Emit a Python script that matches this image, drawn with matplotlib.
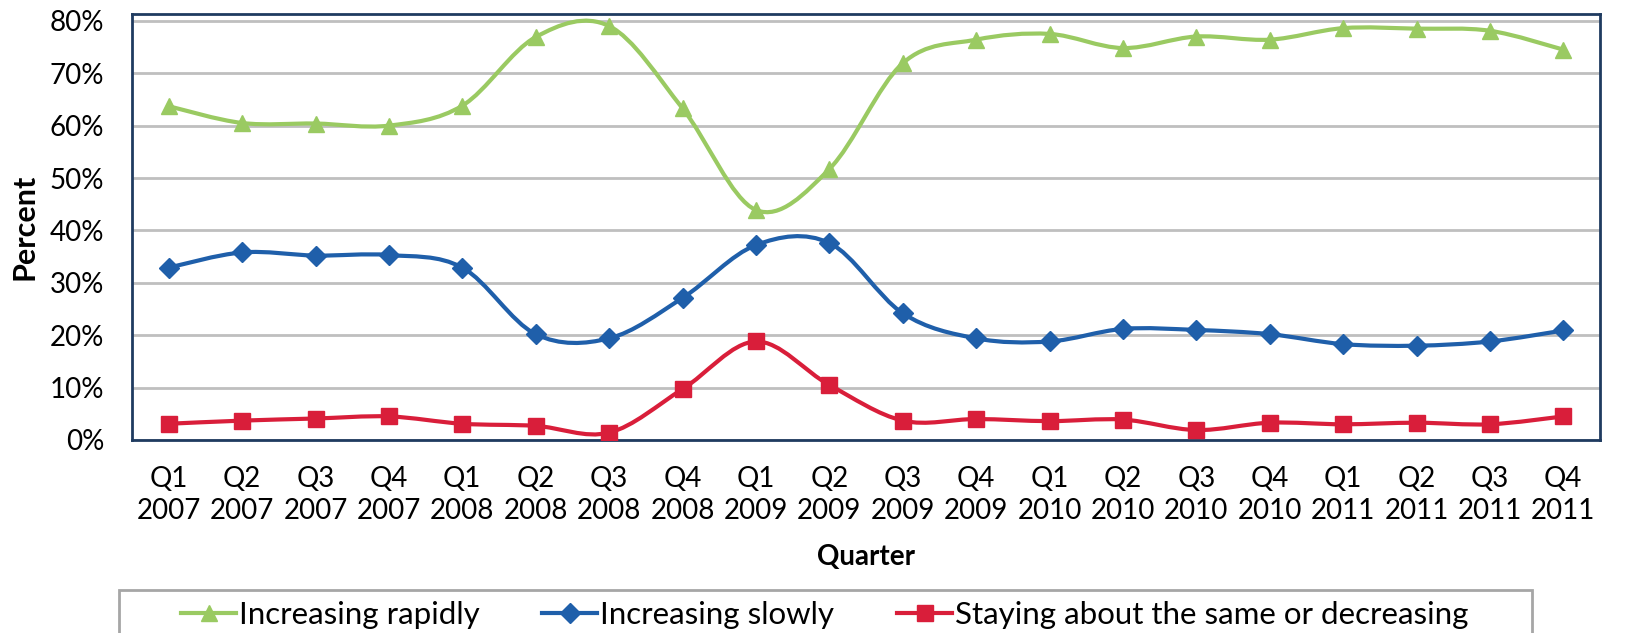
import numpy as np
import matplotlib
matplotlib.use('Agg')
import matplotlib.pyplot as plt
from matplotlib.path import Path
from matplotlib.patches import PathPatch, Rectangle
from matplotlib.lines import Line2D
from matplotlib.ticker import PercentFormatter

quarters = ['Q1\n2007', 'Q2\n2007', 'Q3\n2007', 'Q4\n2007',
            'Q1\n2008', 'Q2\n2008', 'Q3\n2008', 'Q4\n2008',
            'Q1\n2009', 'Q2\n2009', 'Q3\n2009', 'Q4\n2009',
            'Q1\n2010', 'Q2\n2010', 'Q3\n2010', 'Q4\n2010',
            'Q1\n2011', 'Q2\n2011', 'Q3\n2011', 'Q4\n2011']

rapid = [0.637, 0.605, 0.604, 0.600, 0.638, 0.769, 0.790, 0.633, 0.439, 0.517,
         0.719, 0.764, 0.775, 0.748, 0.770, 0.764, 0.786, 0.785, 0.781, 0.745]
slow = [0.329, 0.358, 0.352, 0.353, 0.329, 0.202, 0.194, 0.271, 0.372, 0.376,
        0.242, 0.194, 0.188, 0.212, 0.210, 0.202, 0.183, 0.180, 0.188, 0.209]
same = [0.031, 0.037, 0.041, 0.045, 0.031, 0.027, 0.014, 0.097, 0.188, 0.105,
        0.037, 0.040, 0.036, 0.039, 0.019, 0.033, 0.030, 0.033, 0.030, 0.045]

labels = ['Increasing rapidly', 'Increasing slowly',
          'Staying about the same or decreasing']
colors = ['#9ACA62', '#1F5FAA', '#D91E3A']
markers = ['^', 'D', 's']

plt.rcParams['font.family'] = ['Lato', 'DejaVu Sans']


def smooth_path(xs, ys):
    # Excel-style smoothed line: cubic bezier through every point
    pts = np.column_stack([xs, ys])
    verts = [pts[0]]
    codes = [Path.MOVETO]
    n = len(pts)
    for i in range(n - 1):
        p0 = pts[i - 1] if i > 0 else pts[i]
        p1 = pts[i]
        p2 = pts[i + 1]
        p3 = pts[i + 2] if i + 2 < n else pts[i + 1]
        c1 = p1 + (p2 - p0) / 6
        c2 = p2 - (p3 - p1) / 6
        verts += [c1, c2, p2]
        codes += [Path.CURVE4] * 3
    return Path(verts, codes)


W, H = 1626, 633
fig = plt.figure(figsize=(W / 100, H / 100), dpi=100)
ax = fig.add_axes([132 / W, 193 / H, 1468 / W, 426 / H])

x = np.arange(len(quarters))
handles = []
for vals, c, m, lab in zip([rapid, slow, same], colors, markers, labels):
    ms = 12 if m != 'D' else 10
    ax.add_patch(PathPatch(smooth_path(x, vals), facecolor='none',
                           edgecolor=c, lw=3, zorder=3))
    ax.plot(x, vals, ls='none', marker=m, color=c, markersize=ms, zorder=4)
    handles.append(Line2D([], [], color=c, lw=3, marker=m,
                          markersize=ms, label=lab))

ax.set_xlim(-0.5, len(quarters) - 0.5)
ax.set_ylim(0, 0.813)
ax.set_yticks(np.arange(0, 0.81, 0.1))
ax.yaxis.set_major_formatter(PercentFormatter(1.0, decimals=0))
ax.set_xticks(x)
ax.set_xticklabels(quarters, linespacing=1.25)
ax.tick_params(axis='both', length=0, labelsize=20, colors='black')
ax.tick_params(axis='x', pad=19)
ax.tick_params(axis='y', pad=20)
ax.grid(axis='y', color='#BFBFBF', lw=2)
ax.set_axisbelow(True)
for s in ax.spines.values():
    s.set_color('#1F3B60')
    s.set_linewidth(2)

ax.set_ylabel('Percent', fontsize=22, fontweight='bold', labelpad=8)
ax.set_xlabel('Quarter', fontsize=20, fontweight='bold', labelpad=15)

# legend box runs off the bottom of the figure, as in the original
fig.patches.append(Rectangle((119 / W, -20 / H), 1413 / W, (H - 590 + 20) / H,
                             transform=fig.transFigure, facecolor='white',
                             edgecolor='#A6A6A6', lw=2))
fig.legend(handles=handles, loc='center left',
           bbox_to_anchor=(181 / W, 1 - 615 / H), ncol=3, fontsize=22.5,
           frameon=False, handlelength=1.76, handletextpad=0.1,
           columnspacing=2.0, borderpad=0, borderaxespad=0)

fig.savefig('out.png', dpi=100)
